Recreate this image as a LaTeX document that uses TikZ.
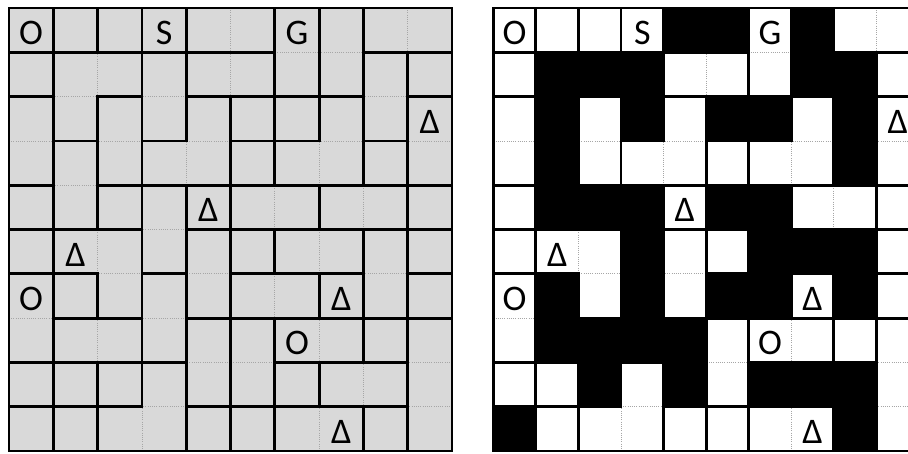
\documentclass[tikz,border=0pt]{standalone}
\usepackage{fontspec}
\setmainfont{Carlito}
\definecolor{cellgray}{HTML}{D9D9D9}
\definecolor{seamgray}{HTML}{A6A6A6}

\begin{document}
\begin{tikzpicture}[
  x=1pt, y=1pt,
  font=\fontsize{36}{36}\selectfont,
  wall/.style={draw=black, line width=2.8pt, line cap=rect},
  seam/.style={draw=seamgray, line width=0.8pt, dash pattern=on 1pt off 1.2pt},
  blk/.style={fill=black},
  clue/.style={anchor=base, inner sep=0pt}
]
\useasboundingbox (0,0) rectangle (908,-453);
\clip (0,0) rectangle (908,-453);

% ---- region walls: 1 = thick, 0 = dotted ----
\def\vwall{{{1,1,1,1,0,1,1,1,0},{1,0,1,1,0,1,1,1,1},{1,1,1,1,1,1,1,1,1},
            {1,1,1,0,1,1,0,1,1},{1,1,1,1,1,0,1,0,1},{1,0,1,1,1,1,0,1,1},
            {1,1,1,1,1,0,1,1,1},{1,0,1,1,1,1,0,1,1},{1,1,1,1,1,1,1,0,1},
            {1,1,0,1,1,1,0,1,1}}}
\def\hwall{{{1,1,1,1,1,1,0,0,1,1},{1,0,1,0,1,1,1,1,0,1},{0,1,0,1,0,1,1,0,1,0},
            {1,0,1,1,1,1,1,1,1,1},{1,1,1,0,1,1,1,1,1,1},{1,1,0,1,0,1,1,1,0,1},
            {0,1,1,0,1,1,1,1,1,1},{1,1,1,1,0,0,1,1,1,0},{1,1,1,0,1,1,1,1,1,0}}}

% ---- backgrounds ----
\fill[white] (0,0) rectangle (908,-453);
\fill[cellgray] (9,-8) rectangle ++(443,-443);

% ---- both boards: dotted grid, then walls ----
\foreach \ox/\cw in {9/44.3, 493.3/42.57} {
  \foreach \k in {1,...,9} {
    \draw[seam] (\ox+\k*\cw, -8) -- ++(0,-443);
    \draw[seam] (\ox, -8-\k*44.3) -- ++(10*\cw,0);
  }
  \foreach \r in {0,...,9} {
    \foreach \c in {1,...,9} {
      \pgfmathtruncatemacro\w{\vwall[\r][\c-1]}
      \ifnum\w=1
        \draw[wall] (\ox+\c*\cw, -8-\r*44.3) -- ++(0,-44.3);
      \fi
    }
  }
  \foreach \r in {1,...,9} {
    \foreach \c in {0,...,9} {
      \pgfmathtruncatemacro\w{\hwall[\r-1][\c]}
      \ifnum\w=1
        \draw[wall] (\ox+\c*\cw, -8-\r*44.3) -- ++(\cw,0);
      \fi
    }
  }
}

% ---- solution: black cells ----
\foreach \r/\cs in {0/{4,5,7}, 1/{1,2,3,7,8}, 2/{1,3,5,6,8}, 3/{1,8}, 4/{1,2,3,5,6},
                    5/{3,6,7,8}, 6/{1,3,5,6,8}, 7/{1,2,3,4}, 8/{2,4,6,7,8}, 9/{0,8}} {
  \foreach \c in \cs {
    \fill[blk] (493.3+\c*42.57, -8-\r*44.3) rectangle ++(42.57,-44.3);
  }
}

% ---- frames ----
\draw[wall] (9,-8) rectangle ++(443,-443);
\draw[wall] (493.3,-8) rectangle ++(425.7,-443);

% ---- clues ----
\foreach \ox/\cw/\b in {9/44.3/L, 493.3/42.57/R} {
  \foreach \r/\c/\t/\n in {0/0/O/o1, 0/3/S/s, 0/6/G/g, 2/9/Δ/d1, 4/4/Δ/d2, 5/1/Δ/d3,
                           6/0/O/o2, 6/7/Δ/d4, 7/6/O/o3, 9/7/Δ/d5} {
    \node[clue] (\b-\n) at (\ox+\c*\cw+\cw/2, -8-\r*44.3-36.6) {\t};
  }
}
\end{tikzpicture}
\end{document}
